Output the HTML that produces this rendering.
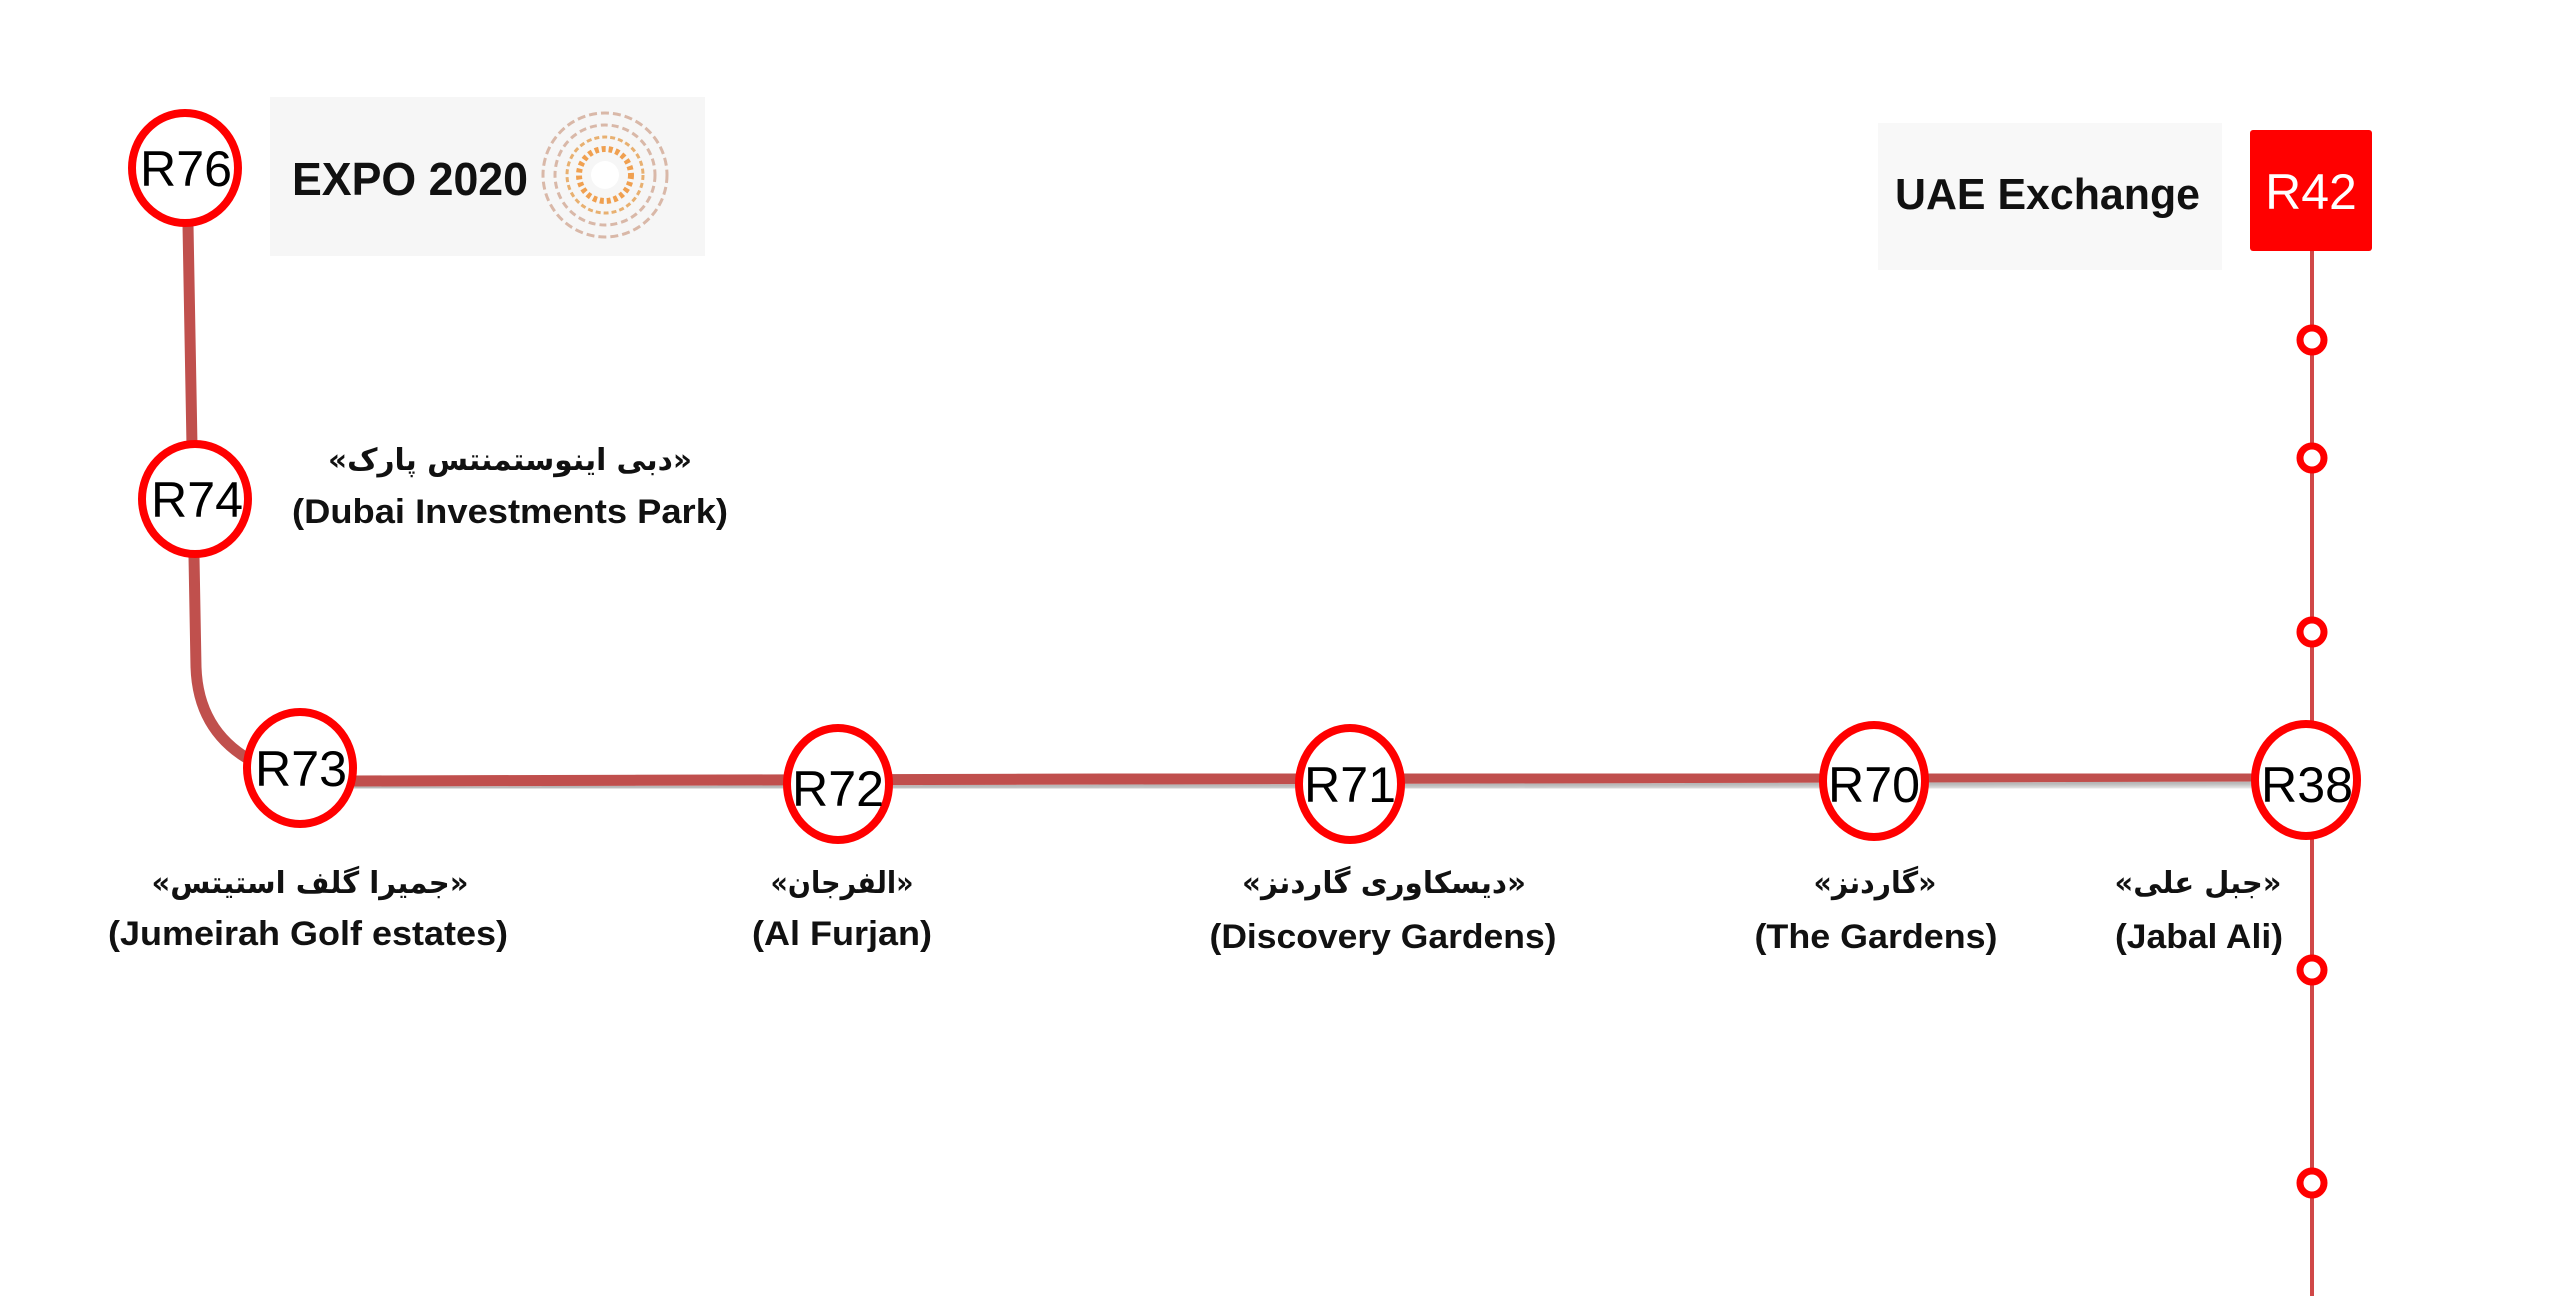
<!DOCTYPE html>
<html><head><meta charset="utf-8"><style>html,body{margin:0;padding:0;background:#fff}svg{display:block}</style></head><body>
<svg width="2560" height="1298" viewBox="0 0 2560 1298" xmlns="http://www.w3.org/2000/svg">
<defs>
<filter id="sh" x="-5%" y="-50%" width="110%" height="300%"><feDropShadow dx="0" dy="5" stdDeviation="3" flood-color="#000" flood-opacity="0.3"/></filter>
</defs>
<rect x="270" y="97" width="435" height="159" fill="#f6f6f6"/>
<text x="292" y="195" font-family="Liberation Sans, sans-serif" font-weight="bold" font-size="46" fill="#111" textLength="236" lengthAdjust="spacingAndGlyphs">EXPO 2020</text>
<g fill="none" stroke="#d9b8a8" stroke-width="3">
<circle cx="605" cy="175" r="62" stroke-dasharray="8 4"/>
<circle cx="605" cy="175" r="50" stroke-dasharray="7 4"/>
<circle cx="605" cy="175" r="38" stroke="#e8b070" stroke-dasharray="5 3"/>
<circle cx="605" cy="175" r="26" stroke="#f0a050" stroke-width="6" stroke-dasharray="4 3"/>
</g>
<circle cx="605" cy="175" r="14" fill="#fff"/>
<rect x="1878" y="123" width="344" height="147" fill="#f8f8f8"/>
<text x="1895" y="209" font-family="Liberation Sans, sans-serif" font-weight="bold" font-size="44" fill="#111" textLength="305" lengthAdjust="spacingAndGlyphs">UAE Exchange</text>
<line x1="2312" y1="250" x2="2312" y2="1296" stroke="#d04848" stroke-width="4"/>
<path d="M188 225 L196 667 Q198 730 250 760" fill="none" stroke="#c0504d" stroke-width="11"/>
<path d="M350 781 L2260 776" fill="none" stroke="#c0504d" stroke-width="11" filter="url(#sh)"/>
<g fill="#fff" stroke="#f00" stroke-width="7">
<circle cx="2312" cy="340" r="12"/><circle cx="2312" cy="458" r="12"/><circle cx="2312" cy="632" r="12"/><circle cx="2312" cy="970" r="12"/><circle cx="2312" cy="1183" r="12"/>
</g>
<rect x="2250" y="130" width="122" height="121" rx="3" fill="#f00"/>
<text x="2311" y="209" text-anchor="middle" font-family="Liberation Sans, sans-serif" font-size="50" fill="#fff">R42</text>
<g fill="#fff" stroke="#f00" stroke-width="8">
<ellipse cx="185" cy="168" rx="53" ry="55"/>
<ellipse cx="195" cy="499" rx="53" ry="55"/>
<ellipse cx="300" cy="768" rx="53" ry="56"/>
<ellipse cx="838" cy="784" rx="51" ry="56"/>
<ellipse cx="1350" cy="784" rx="51" ry="56"/>
<ellipse cx="1874" cy="781" rx="51" ry="56"/>
<ellipse cx="2306" cy="780" rx="51" ry="56"/>
</g>
<g font-family="Liberation Sans, sans-serif" font-size="50" fill="#000" text-anchor="middle">
<text x="186" y="186" textLength="92" lengthAdjust="spacingAndGlyphs">R76</text>
<text x="197" y="517" textLength="92" lengthAdjust="spacingAndGlyphs">R74</text>
<text x="301" y="786" textLength="92" lengthAdjust="spacingAndGlyphs">R73</text>
<text x="838" y="806" textLength="92" lengthAdjust="spacingAndGlyphs">R72</text>
<text x="1350" y="802" textLength="92" lengthAdjust="spacingAndGlyphs">R71</text>
<text x="1874" y="802" textLength="92" lengthAdjust="spacingAndGlyphs">R70</text>
<text x="2307" y="802" textLength="92" lengthAdjust="spacingAndGlyphs">R38</text>
</g>
<g font-family="DejaVu Sans, sans-serif" font-weight="bold" font-size="30" fill="#111" text-anchor="middle">
<text x="510" y="470" textLength="364" lengthAdjust="spacingAndGlyphs" direction="rtl" unicode-bidi="embed">«دبی اینوستمنتس پارک»</text>
<text x="310" y="893" textLength="317" lengthAdjust="spacingAndGlyphs" direction="rtl" unicode-bidi="embed">«جمیرا گلف استیتس»</text>
<text x="842" y="893" textLength="143" lengthAdjust="spacingAndGlyphs" direction="rtl" unicode-bidi="embed">«الفرجان»</text>
<text x="1384" y="893" textLength="284" lengthAdjust="spacingAndGlyphs" direction="rtl" unicode-bidi="embed">«دیسکاوری گاردنز»</text>
<text x="1875" y="893" textLength="123" lengthAdjust="spacingAndGlyphs" direction="rtl" unicode-bidi="embed">«گاردنز»</text>
<text x="2198" y="893" textLength="167" lengthAdjust="spacingAndGlyphs" direction="rtl" unicode-bidi="embed">«جبل علی»</text>
</g>
<g font-family="Liberation Sans, sans-serif" font-weight="bold" font-size="34" fill="#111" text-anchor="middle">
<text x="510" y="523" textLength="436" lengthAdjust="spacingAndGlyphs">(Dubai Investments Park)</text>
<text x="308" y="945" textLength="400" lengthAdjust="spacingAndGlyphs">(Jumeirah Golf estates)</text>
<text x="842" y="945" textLength="180" lengthAdjust="spacingAndGlyphs">(Al Furjan)</text>
<text x="1383" y="948" textLength="347" lengthAdjust="spacingAndGlyphs">(Discovery Gardens)</text>
<text x="1876" y="948" textLength="243" lengthAdjust="spacingAndGlyphs">(The Gardens)</text>
<text x="2199" y="948" textLength="168" lengthAdjust="spacingAndGlyphs">(Jabal Ali)</text>
</g>
</svg>
</body></html>
